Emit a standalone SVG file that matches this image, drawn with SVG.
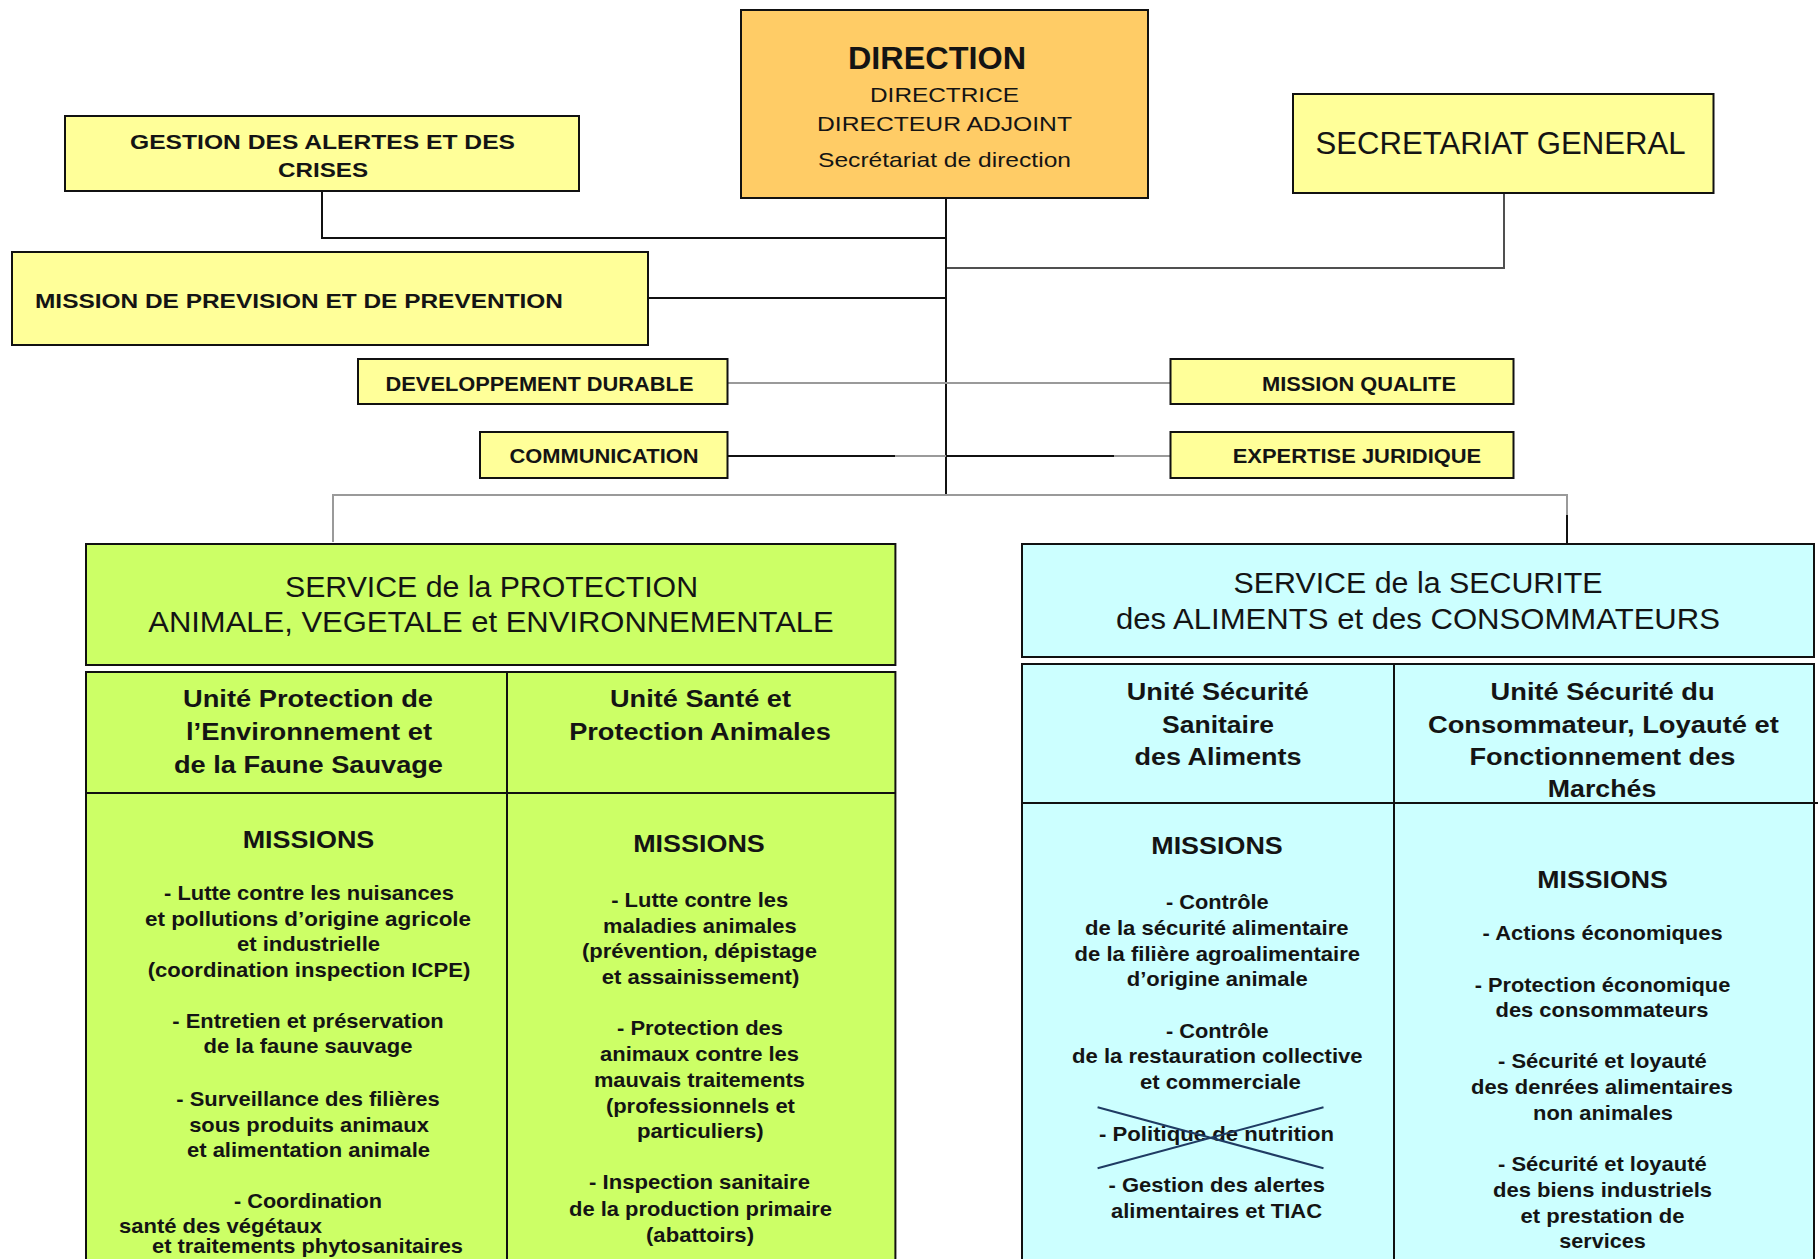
<svg xmlns="http://www.w3.org/2000/svg" width="1818" height="1259" viewBox="0 0 1818 1259">
<style>
text{font-family:"Liberation Sans",Arial,sans-serif;fill:#141414;text-anchor:middle}
.b{font-weight:bold}
.box{stroke:#111;stroke-width:2}
.y{fill:#FFFF99}
.o{fill:#FFCC66}
.g{fill:#CCFF66}
.c{fill:#CCFFFF}
.k{stroke:#111;stroke-width:2;fill:none}
.gr{stroke:#9a9a9a;stroke-width:2;fill:none}
.dg{stroke:#505050;stroke-width:2;fill:none}
.s21{font-size:21px}
.s20{font-size:20.5px}
.s23{font-size:23px}
.s30{font-size:30px}
.s32{font-size:32px}
.s31{font-size:31px}
</style>
<rect width="1818" height="1259" fill="#ffffff"/>
<g id="connectors">
<path class="k" d="M322,191 V238 H946"/>
<path class="k" d="M648,298 H946"/>
<path class="dg" d="M1504,193 V268 H946"/>
<path class="k" d="M946,198 V496"/>
<path class="gr" d="M727.5,383 H1170"/>
<path class="k" d="M727.5,456 H895"/>
<path class="gr" d="M895,456 H946"/>
<path class="k" d="M946,456 H1114"/>
<path class="gr" d="M1114,456 H1170"/>
<path class="gr" d="M333,542 V495 H1567 V515"/>
<path class="k" d="M1567,515 V544"/>
</g>
<g id="node-direction">
<rect class="box o" x="741" y="10" width="407" height="188"/>
<text class="b s31" x="937" y="69" textLength="178" lengthAdjust="spacingAndGlyphs">DIRECTION</text>
<text class="s21" x="944.5" y="102" textLength="149" lengthAdjust="spacingAndGlyphs">DIRECTRICE</text>
<text class="s21" x="944.5" y="131" textLength="255" lengthAdjust="spacingAndGlyphs">DIRECTEUR ADJOINT</text>
<text class="s21" x="944.5" y="167" textLength="253" lengthAdjust="spacingAndGlyphs">Secrétariat de direction</text>
</g>
<g id="node-gestion">
<rect class="box y" x="65" y="116" width="514" height="75"/>
<text class="b s21" x="322.5" y="149" textLength="385" lengthAdjust="spacingAndGlyphs">GESTION DES ALERTES ET DES</text>
<text class="b s21" x="323" y="177" textLength="90" lengthAdjust="spacingAndGlyphs">CRISES</text>
</g>
<g id="node-secretariat">
<rect class="box y" x="1293" y="94" width="420.5" height="99"/>
<text class="s32" x="1500.5" y="154" textLength="370" lengthAdjust="spacingAndGlyphs">SECRETARIAT GENERAL</text>
</g>
<g id="node-prevision">
<rect class="box y" x="12" y="252" width="636" height="93"/>
<text class="b s21" x="35" y="308" style="text-anchor:start" textLength="528" lengthAdjust="spacingAndGlyphs">MISSION DE PREVISION ET DE PREVENTION</text>
</g>
<g id="node-devdurable">
<rect class="box y" x="358" y="359" width="369.5" height="45"/>
<text class="b s21" x="539.5" y="391" textLength="308" lengthAdjust="spacingAndGlyphs">DEVELOPPEMENT DURABLE</text>
</g>
<g id="node-communication">
<rect class="box y" x="480" y="432" width="247.5" height="46"/>
<text class="b s21" x="604" y="463" textLength="189" lengthAdjust="spacingAndGlyphs">COMMUNICATION</text>
</g>
<g id="node-qualite">
<rect class="box y" x="1170.5" y="359" width="343" height="45"/>
<text class="b s21" x="1359" y="391" textLength="194" lengthAdjust="spacingAndGlyphs">MISSION QUALITE</text>
</g>
<g id="node-expertise">
<rect class="box y" x="1170.5" y="432" width="343" height="46"/>
<text class="b s21" x="1357" y="463" textLength="248.5" lengthAdjust="spacingAndGlyphs">EXPERTISE JURIDIQUE</text>
</g>
<g id="node-service-protection">
<rect class="box g" x="86" y="544" width="809.4" height="121"/>
<text class="s30" x="491.5" y="597" textLength="413" lengthAdjust="spacingAndGlyphs">SERVICE de la PROTECTION</text>
<text class="s30" x="491" y="632" textLength="685.5" lengthAdjust="spacingAndGlyphs">ANIMALE, VEGETALE et ENVIRONNEMENTALE</text>
<rect class="box g" x="86" y="672" width="809.4" height="620"/>
<path class="k" d="M507,672 V1270 M86,793 H895.4"/>
<text class="b s23" x="308" y="707" textLength="250" lengthAdjust="spacingAndGlyphs">Unité Protection de</text>
<text class="b s23" x="309" y="740" textLength="246" lengthAdjust="spacingAndGlyphs">l’Environnement et</text>
<text class="b s23" x="308.5" y="773" textLength="269" lengthAdjust="spacingAndGlyphs">de la Faune Sauvage</text>
<text class="b s23" x="700.5" y="707" textLength="181" lengthAdjust="spacingAndGlyphs">Unité Santé et</text>
<text class="b s23" x="700" y="740" textLength="261.6" lengthAdjust="spacingAndGlyphs">Protection Animales</text>
<text class="b s23" x="308.5" y="848" textLength="131.6" lengthAdjust="spacingAndGlyphs">MISSIONS</text>
<text class="b s20" x="309" y="900" textLength="290" lengthAdjust="spacingAndGlyphs">- Lutte contre les nuisances</text>
<text class="b s20" x="308" y="926" textLength="326" lengthAdjust="spacingAndGlyphs">et pollutions  d’origine agricole</text>
<text class="b s20" x="308.5" y="951" textLength="143" lengthAdjust="spacingAndGlyphs">et industrielle</text>
<text class="b s20" x="309" y="976.7" textLength="322.5" lengthAdjust="spacingAndGlyphs">(coordination inspection ICPE)</text>
<text class="b s20" x="308" y="1028" textLength="271.5" lengthAdjust="spacingAndGlyphs">- Entretien et préservation</text>
<text class="b s20" x="308" y="1053" textLength="209" lengthAdjust="spacingAndGlyphs">de la faune sauvage</text>
<text class="b s20" x="308" y="1105.7" textLength="263.3" lengthAdjust="spacingAndGlyphs">- Surveillance des filières</text>
<text class="b s20" x="309" y="1131.7" textLength="239.7" lengthAdjust="spacingAndGlyphs">sous produits animaux</text>
<text class="b s20" x="308.5" y="1156.7" textLength="243" lengthAdjust="spacingAndGlyphs">et alimentation animale</text>
<text class="b s20" x="308" y="1208" textLength="148" lengthAdjust="spacingAndGlyphs">- Coordination</text>
<text class="b s20" x="119" y="1233" style="text-anchor:start" textLength="203" lengthAdjust="spacingAndGlyphs">santé des végétaux</text>
<text class="b s20" x="152" y="1253" style="text-anchor:start" textLength="311" lengthAdjust="spacingAndGlyphs">et traitements phytosanitaires</text>
<text class="b s23" x="699" y="852" textLength="131.6" lengthAdjust="spacingAndGlyphs">MISSIONS</text>
<text class="b s20" x="699.7" y="907" textLength="177" lengthAdjust="spacingAndGlyphs">- Lutte contre les</text>
<text class="b s20" x="699.8" y="932.7" textLength="193.6" lengthAdjust="spacingAndGlyphs">maladies animales</text>
<text class="b s20" x="699.5" y="958" textLength="235" lengthAdjust="spacingAndGlyphs">(prévention, dépistage</text>
<text class="b s20" x="700.5" y="984" textLength="197.5" lengthAdjust="spacingAndGlyphs">et assainissement)</text>
<text class="b s20" x="700" y="1035" textLength="166" lengthAdjust="spacingAndGlyphs">- Protection des</text>
<text class="b s20" x="699.5" y="1060.7" textLength="199" lengthAdjust="spacingAndGlyphs">animaux contre les</text>
<text class="b s20" x="699.4" y="1086.7" textLength="211" lengthAdjust="spacingAndGlyphs">mauvais traitements</text>
<text class="b s20" x="700.4" y="1112.7" textLength="189" lengthAdjust="spacingAndGlyphs">(professionnels et</text>
<text class="b s20" x="700.3" y="1138" textLength="126.7" lengthAdjust="spacingAndGlyphs">particuliers)</text>
<text class="b s20" x="699.5" y="1189" textLength="221" lengthAdjust="spacingAndGlyphs">- Inspection sanitaire</text>
<text class="b s20" x="700.5" y="1215.7" textLength="263" lengthAdjust="spacingAndGlyphs">de la production primaire</text>
<text class="b s20" x="700" y="1241.7" textLength="108" lengthAdjust="spacingAndGlyphs">(abattoirs)</text>
</g>
<g id="node-service-securite">
<rect class="box c" x="1022" y="544" width="792" height="113"/>
<text class="s30" x="1418" y="593" textLength="369" lengthAdjust="spacingAndGlyphs">SERVICE de la SECURITE</text>
<text class="s30" x="1418" y="629" textLength="604" lengthAdjust="spacingAndGlyphs">des ALIMENTS et des CONSOMMATEURS</text>
<rect class="box c" x="1022" y="664" width="792" height="620"/>
<path class="k" d="M1394,664 V1270 M1022,803 H1818"/>
<text class="b s23" x="1217.8" y="700" textLength="182" lengthAdjust="spacingAndGlyphs">Unité Sécurité</text>
<text class="b s23" x="1218" y="733" textLength="112" lengthAdjust="spacingAndGlyphs">Sanitaire</text>
<text class="b s23" x="1218" y="765" textLength="167" lengthAdjust="spacingAndGlyphs">des Aliments</text>
<text class="b s23" x="1602.6" y="700" textLength="224" lengthAdjust="spacingAndGlyphs">Unité Sécurité du</text>
<text class="b s23" x="1603.4" y="733" textLength="351" lengthAdjust="spacingAndGlyphs">Consommateur, Loyauté et</text>
<text class="b s23" x="1602.5" y="765" textLength="266" lengthAdjust="spacingAndGlyphs">Fonctionnement des</text>
<text class="b s23" x="1602" y="797" textLength="108.5" lengthAdjust="spacingAndGlyphs">Marchés</text>
<text class="b s23" x="1217" y="854" textLength="131.5" lengthAdjust="spacingAndGlyphs">MISSIONS</text>
<text class="b s20" x="1217.3" y="909" textLength="102.8" lengthAdjust="spacingAndGlyphs">- Contrôle</text>
<text class="b s20" x="1216.8" y="935" textLength="263.5" lengthAdjust="spacingAndGlyphs">de la sécurité alimentaire</text>
<text class="b s20" x="1217.3" y="960.7" textLength="285.4" lengthAdjust="spacingAndGlyphs">de la filière agroalimentaire</text>
<text class="b s20" x="1217.3" y="985.7" textLength="181" lengthAdjust="spacingAndGlyphs">d’origine animale</text>
<text class="b s20" x="1217.3" y="1038.3" textLength="102.8" lengthAdjust="spacingAndGlyphs">- Contrôle</text>
<text class="b s20" x="1217.3" y="1063.3" textLength="290.6" lengthAdjust="spacingAndGlyphs">de la restauration collective</text>
<text class="b s20" x="1220.4" y="1089.3" textLength="161" lengthAdjust="spacingAndGlyphs">et commerciale</text>
<text class="b s20" x="1216.5" y="1140.7" textLength="235" lengthAdjust="spacingAndGlyphs">- Politique de nutrition</text>
<path d="M1097.6,1107.3 L1323.5,1168.3 M1097.6,1168.3 L1323.5,1107.3" stroke="#1F3B63" stroke-width="2" fill="none"/>
<text class="b s20" x="1216.8" y="1192.3" textLength="216.5" lengthAdjust="spacingAndGlyphs">- Gestion des alertes</text>
<text class="b s20" x="1216.5" y="1218.3" textLength="211" lengthAdjust="spacingAndGlyphs">alimentaires et TIAC</text>
<text class="b s23" x="1602.5" y="887.7" textLength="130.4" lengthAdjust="spacingAndGlyphs">MISSIONS</text>
<text class="b s20" x="1602.6" y="940" textLength="240" lengthAdjust="spacingAndGlyphs">- Actions économiques</text>
<text class="b s20" x="1602.5" y="991.7" textLength="255.6" lengthAdjust="spacingAndGlyphs">- Protection économique</text>
<text class="b s20" x="1602" y="1016.7" textLength="213" lengthAdjust="spacingAndGlyphs">des consommateurs</text>
<text class="b s20" x="1602.4" y="1068.3" textLength="208.7" lengthAdjust="spacingAndGlyphs">- Sécurité et loyauté</text>
<text class="b s20" x="1602" y="1094" textLength="262" lengthAdjust="spacingAndGlyphs">des denrées alimentaires</text>
<text class="b s20" x="1603" y="1120" textLength="140" lengthAdjust="spacingAndGlyphs">non animales</text>
<text class="b s20" x="1602.4" y="1171" textLength="208.7" lengthAdjust="spacingAndGlyphs">- Sécurité et loyauté</text>
<text class="b s20" x="1602.5" y="1196.7" textLength="219" lengthAdjust="spacingAndGlyphs">des biens industriels</text>
<text class="b s20" x="1602.5" y="1223.3" textLength="164" lengthAdjust="spacingAndGlyphs">et prestation de</text>
<text class="b s20" x="1602.5" y="1248.3" textLength="86.6" lengthAdjust="spacingAndGlyphs">services</text>
</g>
</svg>
